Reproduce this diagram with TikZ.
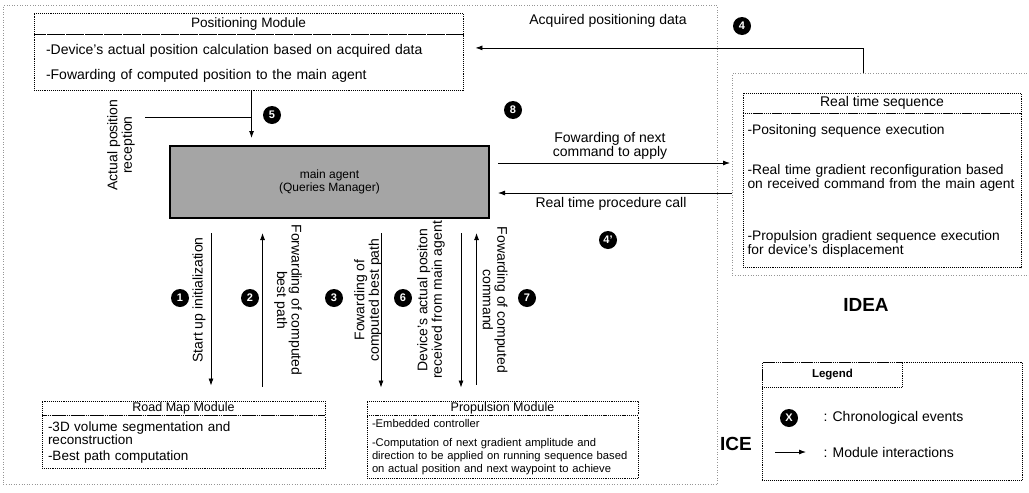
\documentclass[tikz,border=0pt]{standalone}
\usepackage{fontspec}
\setmainfont{Liberation Sans}
\usepackage{tikz}
\usetikzlibrary{arrows.meta,positioning,calc}
\definecolor{agentgray}{RGB}{165,165,165}
\definecolor{zonegray}{RGB}{150,150,150}

\begin{document}
\begin{tikzpicture}[x=1pt,y=-1pt,
  every node/.style={font=\fontsize{14}{14.5}\selectfont},
  modtitle/.style={draw,densely dotted,line width=0.9pt,inner sep=0pt},
  modbody/.style={draw,densely dotted,line width=0.9pt,align=left,inner ysep=0pt},
  badge/.style={circle,fill=black,text=white,inner sep=0pt,minimum size=18pt,font=\bfseries\fontsize{11}{11}\selectfont},
  zone/.style={draw=zonegray,dotted,line width=0.6pt,inner sep=0pt},
  arr/.style={-{Latex[length=7pt,width=5pt]},line width=0.8pt}]
  \useasboundingbox (0,0) rectangle (1029,493);

  % areas
  \node[zone,anchor=north west,minimum width=714pt,minimum height=479pt] (ice) at (3,5) {};
  \node[zone,anchor=north west,minimum width=305pt,minimum height=202pt] (idea) at (732,73) {};
  \node[font=\bfseries\fontsize{19}{19}\selectfont] (icelbl) at (736,444) {ICE};
  \node[font=\bfseries\fontsize{19}{19}\selectfont] (idealbl) at (866,305) {IDEA};

  % modules
  \node[modtitle,minimum width=429pt,minimum height=21pt,font=\fontsize{13.6}{14}\selectfont] (posT) at (248.5,23.5) {Positioning Module};
  \node[modbody,below=0pt of posT,text width=405pt,inner xsep=12pt,minimum height=56pt] (posB) {-Device's actual position calculation based on acquired data\\[10.5pt]-Fowarding of computed position to the main agent};
  \node[modtitle,minimum width=278pt,minimum height=20pt] (rtsT) at (882,103) {Real time sequence};
  \node[modbody,below=0pt of rtsT,text width=269pt,inner xsep=4.5pt,minimum height=154pt,font=\fontsize{13.8}{14}\selectfont] (rtsB) {-Positoning sequence execution\\[26pt]-Real time gradient reconfiguration based\\on received command from the main agent\\[38pt]-Propulsion gradient sequence execution\\for device's displacement};
  \node[draw,line width=2pt,fill=agentgray,minimum width=319pt,minimum height=72pt,align=center,font=\fontsize{12}{13}\selectfont] (agent) at (329.5,182) {main agent\\(Queries Manager)};
  \node[modtitle,minimum width=283pt,minimum height=14pt,font=\fontsize{12.5}{13}\selectfont] (roadT) at (183.5,408) {Road Map Module};
  \node[modbody,below=0pt of roadT,text width=271pt,inner xsep=6pt,minimum height=53pt,font=\fontsize{13.5}{12.5}\selectfont] (roadB) {-3D volume segmentation and\\reconstruction\\[3.5pt]-Best path computation};
  \node[modtitle,minimum width=271pt,minimum height=14pt,font=\fontsize{12.5}{13}\selectfont] (propT) at (502.5,408) {Propulsion Module};
  \node[modbody,below=0pt of propT,text width=261pt,inner xsep=5pt,minimum height=63pt,font=\fontsize{11.2}{13}\selectfont] (propB) {-Embedded controller\\[6pt]-Computation of next gradient amplitude and\\direction to be applied on running sequence based\\on actual position and next waypoint to achieve};

  % labels
  \node (acq) at (608,21) {Acquired positioning data};
  \node[align=center] (fwdnext) at (610,146) {Fowarding of next\\command to apply};
  \node (rtcall) at (611,204) {Real time procedure call};
  \node[rotate=90,align=center] (lbl5) at (121,145) {Actual position\\reception};
  \node[rotate=90] (lbl1) at (199,300) {Start up initialization};
  \node[rotate=-90,align=center] (lbl2) at (288,300) {Forwarding of computed\\best path};
  \node[rotate=90,align=center] (lbl3) at (368,300) {Fowarding of\\computed best path};
  \node[rotate=90,align=center] (lbl6) at (431,300) {Device's actual positon\\received from main agent};
  \node[rotate=-90,align=center] (lbl7) at (495,300) {Fowarding of computed\\command};

  % events
  \node[badge] (b1) at (180,298) {1};
  \node[badge] (b2) at (250,298) {2};
  \node[badge] (b3) at (334,298) {3};
  \node[badge] (b4) at (742,26) {4};
  \node[badge] (b4p) at (608,240) {4'};
  \node[badge] (b5) at (272,115) {5};
  \node[badge] (b6) at (403,298) {6};
  \node[badge] (b7) at (527,298) {7};
  \node[badge] (b8) at (513,110) {8};

  % interactions
  \draw[arr,shorten >=15pt] ($(agent.south west)+(42,14)$) coordinate (a1) -- (a1 |- roadT.north);
  \draw[arr,shorten >=14pt] ($(roadT.north west)+(221,-14)$) coordinate (a2) -- (a2 |- agent.south);
  \draw[arr,shorten >=13pt] ($(agent.south west)+(212,14)$) coordinate (a3) -- (a3 |- propT.north);
  \draw[arr,shorten >=13pt] ($(agent.south west)+(292,14)$) coordinate (a6) -- (a6 |- propT.north);
  \draw[arr,shorten >=14pt] ($(propT.north west)+(110,-16)$) coordinate (a7) -- (a7 |- agent.south);
  \draw[arr,shorten >=7pt] ($(posB.south west)+(218,0)$) coordinate (a5) -- (a5 |- agent.north);
  \coordinate (l5) at (145,117);
  \draw[line width=0.8pt] (l5) -- (l5 -| a5);
  \draw[arr,shorten >=12pt] ($(idea.north west)+(131,0)$) |- ([yshift=15pt]posB.east);
  \draw[arr,shorten <=8pt,shorten >=2pt] ([yshift=19pt]agent.east) -- ([yshift=19pt]agent.east -| idea.west);
  \draw[arr,shorten >=8pt] ([yshift=-11pt]agent.east -| idea.west) -- ([yshift=-11pt]agent.east);

  % legend
  \node[modtitle,anchor=north west,minimum width=260pt,minimum height=118pt] (legend) at (762,362) {};
  \node[modtitle,anchor=north west,minimum width=140pt,minimum height=25pt,font=\bfseries\fontsize{11.5}{12}\selectfont] (legT) at (762,362) {Legend};
  \node[badge] (bx) at (789,418) {X};
  \node[anchor=west] (legtxt1) at (820,418) {: Chronological events};
  \coordinate (lgA) at (775,452);
  \coordinate (lgB) at (806,452);
  \draw[arr] (lgA) -- (lgB);
  \node[anchor=west] (legtxt2) at (820,452) {: Module interactions};
\end{tikzpicture}
\end{document}
